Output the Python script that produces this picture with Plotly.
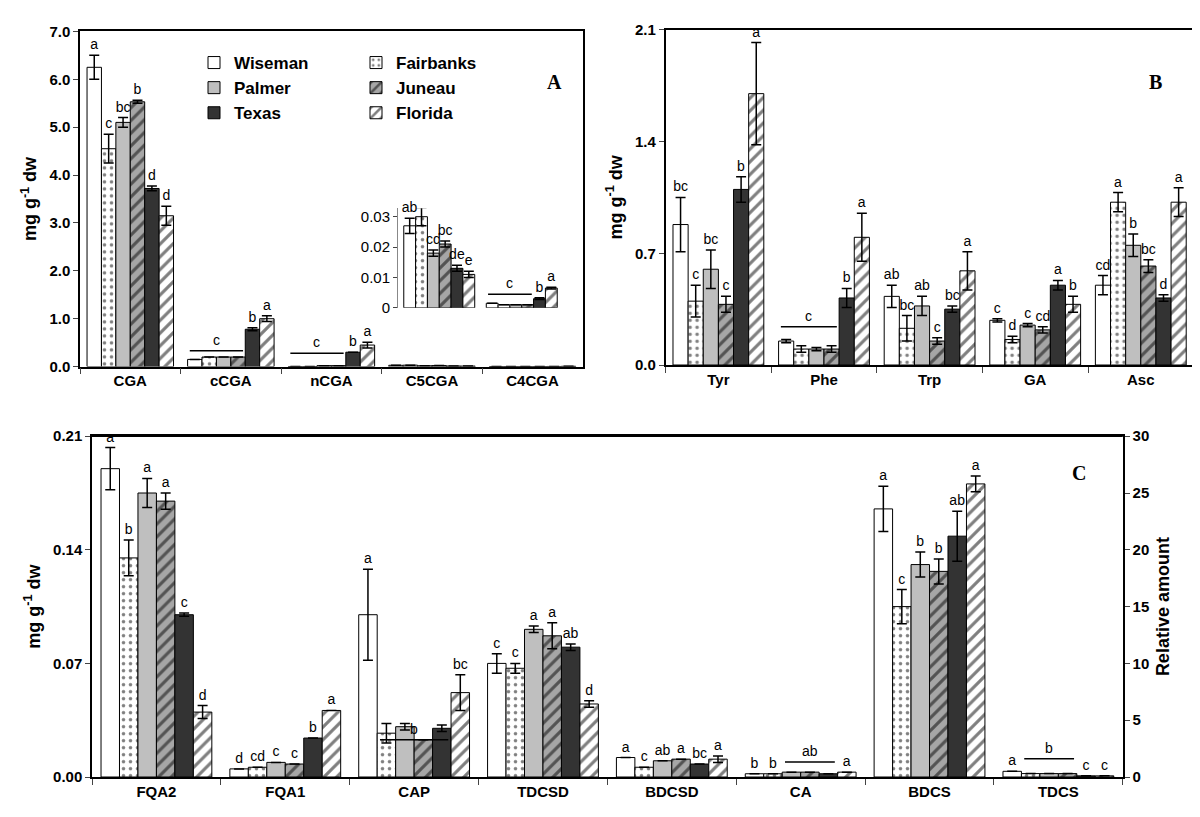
import plotly.graph_objects as go

series = ["Wiseman", "Fairbanks", "Palmer", "Juneau", "Texas", "Florida"]

# panel A
cat_a = ["CGA", "cCGA", "nCGA", "C5CGA", "C4CGA"]
val_a = [
    [6.25, 0.15, 0.0, 0.027, 0.0015],
    [4.55, 0.2, 0.0, 0.030, 0.001],
    [5.1, 0.2, 0.02, 0.018, 0.001],
    [5.53, 0.2, 0.02, 0.021, 0.001],
    [3.72, 0.78, 0.3, 0.013, 0.003],
    [3.15, 1.0, 0.45, 0.011, 0.0065],
]
err_a = [
    [0.25, 0.0, 0.0, 0.0, 0.0],
    [0.3, 0.0, 0.0, 0.0, 0.0],
    [0.1, 0.0, 0.0, 0.0, 0.0],
    [0.03, 0.0, 0.0, 0.0, 0.0],
    [0.05, 0.03, 0.0, 0.0, 0.0],
    [0.2, 0.06, 0.06, 0.0, 0.0],
]
let_a = [
    ["a", "", "", "", ""],
    ["c", "", "", "", ""],
    ["bc", "", "", "", ""],
    ["b", "", "", "", ""],
    ["d", "b", "b", "", ""],
    ["d", "a", "a", "", ""],
]
# inset of panel A
cat_i = ["C5CGA", "C4CGA"]
val_i = [[0.027, 0.0015], [0.030, 0.001], [0.018, 0.001], [0.021, 0.001], [0.013, 0.003], [0.011, 0.0065]]
err_i = [[0.0025, 0.0], [0.003, 0.0], [0.001, 0.0], [0.001, 0.0], [0.001, 0.0003], [0.001, 0.0003]]
let_i = [["ab", ""], ["a", ""], ["cd", ""], ["bc", ""], ["de", "b"], ["e", "a"]]

# panel B
cat_b = ["Tyr", "Phe", "Trp", "GA", "Asc"]
val_b = [
    [0.88, 0.15, 0.43, 0.28, 0.5],
    [0.40, 0.1, 0.23, 0.16, 1.02],
    [0.6, 0.1, 0.37, 0.25, 0.75],
    [0.38, 0.1, 0.15, 0.22, 0.62],
    [1.1, 0.42, 0.35, 0.5, 0.42],
    [1.7, 0.8, 0.59, 0.38, 1.02],
]
err_b = [
    [0.17, 0.01, 0.07, 0.01, 0.06],
    [0.1, 0.02, 0.08, 0.02, 0.06],
    [0.12, 0.01, 0.06, 0.01, 0.07],
    [0.05, 0.02, 0.02, 0.02, 0.04],
    [0.08, 0.06, 0.02, 0.03, 0.02],
    [0.32, 0.15, 0.12, 0.05, 0.09],
]
let_b = [
    ["bc", "", "ab", "c", "cd"],
    ["c", "", "bc", "d", "a"],
    ["bc", "", "ab", "c", "b"],
    ["c", "", "c", "cd", "bc"],
    ["b", "b", "bc", "a", "d"],
    ["a", "a", "a", "b", "a"],
]

# panel C (left axis: mg g-1 dw, right axis: relative amount)
cat_c = ["FQA2", "FQA1", "CAP", "TDCSD", "BDCSD", "CA", "BDCS", "TDCS"]
right_c = ["BDCS", "TDCS"]
val_c = [
    [0.19, 0.005, 0.1, 0.07, 0.012, 0.002, 23.6, 0.5],
    [0.135, 0.006, 0.027, 0.067, 0.006, 0.002, 15.0, 0.3],
    [0.175, 0.009, 0.031, 0.091, 0.01, 0.003, 18.7, 0.3],
    [0.17, 0.008, 0.023, 0.087, 0.011, 0.003, 18.1, 0.3],
    [0.1, 0.024, 0.03, 0.08, 0.008, 0.002, 21.2, 0.1],
    [0.04, 0.041, 0.052, 0.045, 0.011, 0.003, 25.8, 0.1],
]
err_c = [
    [0.013, 0.0, 0.028, 0.006, 0.0, 0.0, 2.0, 0.0],
    [0.011, 0.0, 0.006, 0.003, 0.0, 0.0, 1.5, 0.0],
    [0.009, 0.0, 0.002, 0.002, 0.0, 0.0, 1.1, 0.0],
    [0.005, 0.0, 0.0, 0.008, 0.0, 0.0, 1.1, 0.0],
    [0.001, 0.0, 0.002, 0.002, 0.0, 0.0, 2.2, 0.0],
    [0.004, 0.0, 0.011, 0.002, 0.002, 0.0, 0.7, 0.0],
]
let_c = [
    ["a", "d", "a", "c", "a", "b", "a", "a"],
    ["b", "cd", "", "c", "c", "b", "c", ""],
    ["a", "c", "", "a", "ab", "", "b", ""],
    ["a", "c", "", "a", "a", "", "b", ""],
    ["c", "b", "", "ab", "bc", "", "ab", "c"],
    ["d", "a", "bc", "d", "a", "a", "a", "c"],
]
# letters over a line spanning several bars: (axis, category, first bar, last bar, letter, y)
group_lines = [
    ("a", "cCGA", 0, 3, "c", 0.33),
    ("a", "nCGA", 0, 3, "c", 0.28),
    ("i", "C4CGA", 0, 3, "c", 0.0045),
    ("b", "Phe", 0, 3, "c", 0.24),
    ("c", "CAP", 1, 4, "b", 0.023),
    ("c", "CA", 2, 4, "ab", 0.0093),
    ("r", "TDCS", 1, 3, "b", 1.6),
]

fills = ["white", "white", "#bfbfbf", "#a6a6a6", "#333333", "white"]
shapes_p = ["", ".", "", "/", "", "/"]
BARGAP = 0.14
FONT = "Liberation Sans"


def bar_x(cats, cat, i):
    w = (1 - BARGAP) / 6
    return cats.index(cat) - (1 - BARGAP) / 2 + w * (i + 0.5)


fig = go.Figure()


def add_panel(cats, vals, errs, lets, xa, ya, legend=False, keep=None):
    for k, s in enumerate(series):
        v = [vals[k][j] if keep is None or keep(cats[j]) else None for j in range(len(cats))]
        e = [errs[k][j] for j in range(len(cats))]
        fig.add_trace(go.Bar(
            x=cats, y=v, name=s, xaxis=xa, yaxis=ya, offsetgroup=s,
            marker=dict(color=fills[k], line=dict(color="black", width=1),
                        pattern=dict(shape=shapes_p[k], fgcolor="black", bgcolor=fills[k],
                                     size=7 if k == 1 else 9, solidity=0.2 if k == 1 else 0.35)),
            error_y=dict(type="data", array=e, visible=True, color="black", thickness=1.5, width=5),
            showlegend=legend, legend="legend" if k % 2 == 0 else "legend2",
        ))
        tops = [None if v[j] is None else v[j] + errs[k][j] for j in range(len(cats))]
        fig.add_trace(go.Bar(
            x=cats, y=tops, xaxis=xa, yaxis=ya, offsetgroup=s,
            marker=dict(color="rgba(0,0,0,0)", line=dict(width=0)),
            text=lets[k], textposition="outside", cliponaxis=False, constraintext="none",
            textfont=dict(family=FONT, size=14, color="black"),
            showlegend=False, hoverinfo="skip",
        ))


add_panel(cat_a, val_a, err_a, let_a, "x", "y", legend=True)
add_panel(cat_i, val_i, err_i, let_i, "x4", "y5")
add_panel(cat_b, val_b, err_b, let_b, "x2", "y2")
add_panel(cat_c, val_c, err_c, let_c, "x3", "y3", keep=lambda c: c not in right_c)
add_panel(cat_c, val_c, err_c, let_c, "x3", "y4", keep=lambda c: c in right_c)

axis_map = {"a": ("x", "y", cat_a), "i": ("x4", "y5", cat_i), "b": ("x2", "y2", cat_b),
            "c": ("x3", "y3", cat_c), "r": ("x3", "y4", cat_c)}
for ax, cat, i0, i1, txt, yv in group_lines:
    xr, yr, cats = axis_map[ax]
    x0, x1 = bar_x(cats, cat, i0) - 0.05, bar_x(cats, cat, i1) + 0.05
    fig.add_shape(type="line", xref=xr, yref=yr, x0=x0, x1=x1, y0=yv, y1=yv,
                  line=dict(color="black", width=1.5))
    fig.add_annotation(xref=xr, yref=yr, x=(x0 + x1) / 2, y=yv, text=txt, showarrow=False,
                       yanchor="bottom", yshift=1, font=dict(family=FONT, size=14, color="black"))

tickf = dict(family=FONT, size=15, color="black", weight="bold")
xcommon = dict(type="category", showline=True, linecolor="black", linewidth=1.5, ticks="outside",
               tickson="boundaries", ticklen=6, tickfont=tickf, mirror=True)
ycommon = dict(showline=True, linecolor="black", linewidth=1.5, ticks="outside", ticklen=5,
               tickfont=tickf, showgrid=False, zeroline=False, mirror=True)
ytitle = dict(text="mg g<sup>-1</sup> dw", font=dict(family=FONT, size=18, color="black", weight="bold"),
              standoff=8)

fig.update_layout(
    width=1200, height=817, margin=dict(l=0, r=0, t=0, b=0),
    plot_bgcolor="white", paper_bgcolor="white", barmode="group", bargap=BARGAP, bargroupgap=0,
    xaxis=dict(domain=[0.06, 0.479], anchor="y", **xcommon),
    yaxis=dict(domain=[0.563, 0.982], anchor="x", range=[0, 7], dtick=1, tickformat=".1f",
               title=ytitle, **ycommon),
    xaxis2=dict(domain=[0.548, 0.988], anchor="y2", **xcommon),
    yaxis2=dict(domain=[0.565, 0.984], anchor="x2", range=[0, 2.1], dtick=0.7, tickformat=".1f",
                title=ytitle, **ycommon),
    xaxis3=dict(domain=[0.07, 0.929], anchor="y3", **xcommon),
    yaxis3=dict(domain=[0.05, 0.476], anchor="x3", range=[0, 0.21], dtick=0.07, tickformat=".2f",
                title=ytitle, **{**ycommon, "mirror": False}),
    yaxis4=dict(overlaying="y3", side="right", anchor="x3", range=[0, 30], dtick=5,
                title=dict(text="Relative amount", font=dict(family=FONT, size=18, color="black", weight="bold"),
                           standoff=8), **{**ycommon, "mirror": False}),
    xaxis4=dict(domain=[0.325, 0.4625], anchor="y5", type="category", showline=False,
                showticklabels=False, ticks=""),
    yaxis5=dict(domain=[0.6365, 0.761], anchor="x4", range=[0, 0.0328], dtick=0.01,
                tickvals=[0, 0.01, 0.02, 0.03], ticktext=["0", "0.01", "0.02", "0.03"],
                showline=True, linecolor="#888888", linewidth=1, ticks="outside", ticklen=4,
                tickfont=dict(family=FONT, size=15, color="black"), showgrid=False, zeroline=False),
    legend=dict(x=0.155, y=0.965, xanchor="left", yanchor="top", bgcolor="rgba(0,0,0,0)",
                font=dict(family=FONT, size=17, color="black", weight="bold"), tracegroupgap=0,
                itemwidth=30),
    legend2=dict(x=0.29, y=0.965, xanchor="left", yanchor="top", bgcolor="rgba(0,0,0,0)",
                 font=dict(family=FONT, size=17, color="black", weight="bold"), tracegroupgap=0,
                 itemwidth=30),
)
# top border of panel C
fig.add_shape(type="line", xref="paper", yref="paper", x0=0.07, x1=0.929, y0=0.476, y1=0.476,
              line=dict(color="black", width=1.5))
for txt, xx, yy in [("A", 0.455, 0.935), ("B", 0.963, 0.935), ("C", 0.9, 0.43)]:
    fig.add_annotation(xref="paper", yref="paper", x=xx, y=yy, text=txt, showarrow=False,
                       font=dict(family="Liberation Serif", size=20, color="black", weight="bold"))

fig.write_html("out.html")
